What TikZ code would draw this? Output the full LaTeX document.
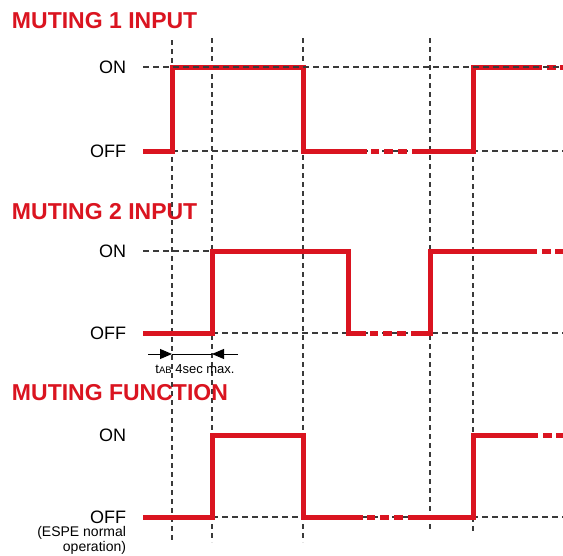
\documentclass[tikz,border=0pt]{standalone}
\usepackage{fontspec}
\setmainfont{Liberation Sans}
\usetikzlibrary{arrows.meta,positioning}
\definecolor{sigRed}{HTML}{DA1420}
\definecolor{gDark}{HTML}{3A3A3A}
\tikzset{
  timing/.style={
    x=1pt, y=-1pt,
    every node/.style={inner sep=0pt, outer sep=0pt},
  },
  panelTitle/.style={
    font=\fontsize{23}{26}\selectfont\bfseries, text=sigRed, anchor=west,
  },
  levelLabel/.style={font=\fontsize{18}{20}\selectfont, anchor=east},
  levelNote/.style={
    font=\fontsize{14}{15}\selectfont, align=right, anchor=north east,
  },
  dimLabel/.style={font=\fontsize{13}{14}\selectfont},
  sig/.style={sigRed, line width=5pt, line join=miter},
  guideV/.style={gDark, line width=1.2pt, dash pattern=on 5pt off 4pt},
  guideH/.style={gDark, line width=1.2pt, dash pattern=on 6pt off 4pt},
  dimArrow/.style={-{Triangle[length=12pt, width=10pt]}, black, line width=0.9pt},
}

% broken (dashed) piece of a signal, starting at x = #1 on level y = #2
% (the solid line picks up again at #1+45)
\newcommand{\sigGap}[2]{%
  \foreach \a/\b in {4/12, 17/26, 31/40}
    \draw[sig] (#1+\a, #2) -- (#1+\b, #2);}
% open end of a signal, starting at x = #1 on level y = #2
\newcommand{\sigEnd}[2]{%
  \draw[sig] (#1+5, #2) -- (#1+14, #2);
  \draw[sig] (#1+18, #2) -- (563, #2);}

\begin{document}
\begin{tikzpicture}[timing]
\useasboundingbox (0,0) rectangle (563,555);

% ============================================================
% Levels of the three panels
% ============================================================
\def\onA{67}
\def\offA{151}
\def\onB{251}
\def\offB{333}
\def\onC{435}
\def\offC{517}

% ============================================================
% Vertical time guides
% ============================================================
\draw[guideV] (172,40) -- (172,542);
\draw[guideV] (212,38) -- (212,542);
\draw[guideV] (303,38) -- (303,542);
\draw[guideV] (430,38) -- (430,530);
\draw[guideV] (473,\onA) -- (473,533);

% horizontal level guides (under the signals)
\draw[guideH] (172,\offA) -- (563,\offA);
\draw[guideH] (143,\onB) -- (212,\onB);
\draw[guideH] (212,\offB) -- (563,\offB);
\draw[guideH] (212,\offC) -- (563,\offC);

% ============================================================
% Panel 1: muting 1 input
% ============================================================
\node[panelTitle] (title1) at (12,21) {MUTING 1 INPUT};
\node[levelLabel] (on1) at (126,\onA) {ON};
\node[levelLabel] (off1) at (126,\offA) {OFF};

\draw[sig] (143,\offA) -- (172,\offA) -- (172,\onA) -- (303,\onA)
  -- (303,\offA) -- (367,\offA);
\sigGap{367}{\offA}
\draw[sig] (412,\offA) -- (473,\offA) -- (473,\onA) -- (542,\onA);
\sigEnd{542}{\onA}

% ON guide runs over the red line here
\draw[guideH] (143,\onA) -- (473,\onA);
\draw[guideH] (473,\onA) -- (563,\onA);

% ============================================================
% Panel 2: muting 2 input
% ============================================================
\node[panelTitle] (title2) at (12,212) {MUTING 2 INPUT};
\node[levelLabel] (on2) at (126,\onB) {ON};
\node[levelLabel] (off2) at (126,\offB) {OFF};

\draw[sig] (143,\offB) -- (212,\offB) -- (212,\onB) -- (348,\onB)
  -- (348,\offB) -- (366,\offB);
\sigGap{366}{\offB}
\draw[sig] (411,\offB) -- (430,\offB) -- (430,\onB) -- (537,\onB);
\sigEnd{537}{\onB}

% t_AB window between the two rising edges
\coordinate (tabL) at (148,354);
\coordinate (tabA) at (172,354);
\coordinate (tabB) at (212,354);
\coordinate (tabR) at (238,354);
\draw[dimArrow] (tabL) -- (tabA);
\draw[black, line width=0.9pt] (tabA) -- (tabB);
\draw[dimArrow] (tabR) -- (tabB);
\node[dimLabel] (tabText) at (195,369)
  {t{\fontsize{9.5}{10}\selectfont AB} 4sec max.};

% ============================================================
% Panel 3: muting function
% ============================================================
\node[panelTitle] (title3) at (12,393) {MUTING FUNCTION};
\node[levelLabel] (on3) at (126,\onC) {ON};
\node[levelLabel] (off3) at (126,\offC) {OFF};
\node[levelNote, below=3pt of off3.south east, anchor=north east] (espe)
  {(ESPE normal\\operation)};

\draw[sig] (143,\offC) -- (212,\offC) -- (212,\onC) -- (303,\onC)
  -- (303,\offC) -- (363,\offC);
\sigGap{363}{\offC}
\draw[sig] (408,\offC) -- (473,\offC) -- (473,\onC) -- (538,\onC);
\sigEnd{538}{\onC}

\end{tikzpicture}
\end{document}
